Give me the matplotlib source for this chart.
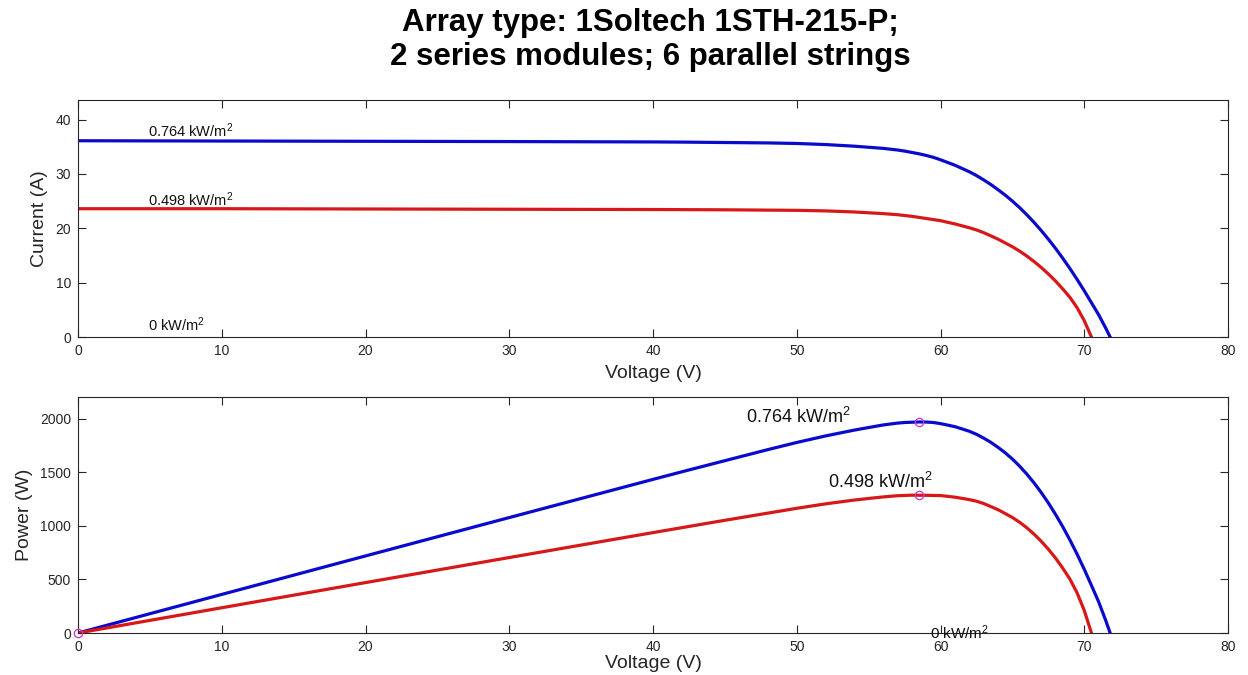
import matplotlib
matplotlib.use("Agg")
import matplotlib.pyplot as plt

plt.rcParams['font.family'] = ['Liberation Sans', 'DejaVu Sans']
plt.rcParams['mathtext.fontset'] = 'custom'
plt.rcParams['mathtext.rm'] = 'Liberation Sans'
plt.rcParams['mathtext.it'] = 'Liberation Sans:italic'

TITLE = "Array type: 1Soltech 1STH-215-P;\n2 series modules; 6 parallel strings"
LABELS = ["0.764 kW/m$^2$", "0.498 kW/m$^2$", "0 kW/m$^2$"]

# 0.764 kW/m2 curve
v_high = [0, 10, 20, 30, 40, 42, 44, 46, 48, 50, 51, 52, 53, 54, 55,
          56, 56.5, 57, 57.5, 58, 58.5, 59, 59.5, 60, 60.5,
          61, 61.5, 62, 62.5, 63, 63.5, 64, 64.5, 65, 65.5,
          66, 66.5, 67, 67.5, 68, 68.5, 69, 69.5, 70, 70.5,
          71, 71.5, 71.8]
i_high = [36.1, 36.05, 36.0, 35.95, 35.88, 35.85, 35.8, 35.75, 35.7, 35.6,
          35.5, 35.4, 35.25, 35.1, 34.9,
          34.7, 34.55, 34.4, 34.2, 33.95, 33.7, 33.4, 33.05, 32.6, 32.1,
          31.6, 31.0, 30.4, 29.7, 28.9, 28.05, 27.1, 26.1, 25.0, 23.8,
          22.5, 21.1, 19.6, 18.0, 16.3, 14.5, 12.6, 10.6, 8.5, 6.3,
          4.1, 1.6, 0]
p_high = [0, 360.5, 720, 1078.5, 1435.2, 1505.7, 1575.2, 1644.5, 1713.6, 1780,
          1810.5, 1840.8, 1868.3, 1895.4, 1919.5,
          1943.2, 1952.1, 1960.8, 1966.5, 1969.1, 1971.5, 1970.6, 1966.5, 1956, 1942.1,
          1927.6, 1906.5, 1884.8, 1856.3, 1820.7, 1781.2, 1734.4, 1683.5, 1625, 1558.9,
          1485, 1403.2, 1313.2, 1215, 1108.4, 993.3, 869.4, 736.7, 595, 444.2,
          291.1, 114.4, 0]

# 0.498 kW/m2 curve
v_low = [0, 10, 20, 30, 40, 45, 50, 51, 52, 53, 54, 55,
         56, 56.5, 57, 57.5, 58, 58.5, 59, 59.5, 60, 60.5,
         61, 61.5, 62, 62.5, 63, 63.5, 64, 64.5, 65, 65.5,
         66, 66.5, 67, 67.5, 68, 68.5, 69, 69.5, 70, 70.5]
i_low = [23.6, 23.6, 23.55, 23.5, 23.45, 23.4, 23.3, 23.25, 23.2, 23.1, 23.0, 22.85,
         22.7, 22.6, 22.5, 22.35, 22.2, 22.0, 21.8, 21.6, 21.4, 21.1,
         20.8, 20.45, 20.1, 19.7, 19.2, 18.6, 18.0, 17.3, 16.6, 15.8,
         14.9, 13.9, 12.8, 11.6, 10.3, 8.85, 7.3, 5.4, 3.0, 0]
p_low = [0, 236, 471, 705, 938, 1053, 1165, 1185.8, 1206.4, 1224.3, 1242, 1256.8,
         1271.2, 1276.9, 1282.5, 1285.1, 1287.6, 1287, 1286.2, 1285.2, 1284, 1276.6,
         1268.8, 1257.7, 1246.2, 1231.3, 1209.6, 1181.1, 1152, 1115.9, 1079, 1034.9,
         983.4, 924.4, 857.6, 783, 700.4, 606.2, 503.7, 375.3, 210, 0]

# maximum power points
mpp_v = [58.5, 58.5, 0]
mpp_p = [1972, 1290, 0]

BLUE = '#0a0acc'
RED = '#d81818'
MAG = '#cc33cc'
GRAY = '#262626'

fig = plt.figure(figsize=(12.48, 6.75), dpi=100)
ax1 = fig.add_axes([0.0625, 0.5007, 0.9215, 0.3512])
ax2 = fig.add_axes([0.0625, 0.0622, 0.9215, 0.3497])

fig.text(0.521, 0.941, TITLE, ha='center', va='center', fontsize=22.5,
         fontweight='bold', linespacing=1.2)

ax1.plot(v_high, i_high, color=BLUE, lw=2.3)
ax1.plot(v_low, i_low, color=RED, lw=2.3)
ax1.set_xlim(0, 80)
ax1.set_ylim(0, 43.6)
ax1.set_yticks([0, 10, 20, 30, 40])
ax1.set_xlabel("Voltage (V)", fontsize=14, color=GRAY, labelpad=5)
ax1.set_ylabel("Current (A)", fontsize=14, color=GRAY, labelpad=5)
ax1.text(4.9, i_high[0] + 1.8, LABELS[0], fontsize=10.5, va='center', color='#111111')
ax1.text(4.9, i_low[0] + 1.7, LABELS[1], fontsize=10.5, va='center', color='#111111')
ax1.text(4.9, 2.2, LABELS[2], fontsize=10.5, va='center', color='#111111')

ax2.plot(v_high, p_high, color=BLUE, lw=2.3)
ax2.plot(v_low, p_low, color=RED, lw=2.3)
ax2.plot(mpp_v, mpp_p, 'o', ls='none', ms=6, mfc='none', mec=MAG, mew=0.9,
         clip_on=False, zorder=5)
ax2.set_xlim(0, 80)
ax2.set_ylim(0, 2205)
ax2.set_yticks([0, 500, 1000, 1500, 2000])
ax2.set_xlabel("Voltage (V)", fontsize=14, color=GRAY, labelpad=0.5)
ax2.set_ylabel("Power (W)", fontsize=14, color=GRAY, labelpad=5)
ax2.text(46.5, 2020, LABELS[0], fontsize=13, va='center', color='#111111')
ax2.text(52.2, 1410, LABELS[1], fontsize=13, va='center', color='#111111')
ax2.text(59.3, 5, LABELS[2], fontsize=11, va='center', color='#111111')

for ax in (ax1, ax2):
    ax.set_xticks(range(0, 81, 10))
    ax.tick_params(direction='in', length=6, width=0.8, top=True, right=True,
                   labelsize=10, colors=GRAY, pad=5)
    for s in ax.spines.values():
        s.set_color(GRAY)
        s.set_linewidth(0.8)

fig.savefig("out.png", dpi=100)
